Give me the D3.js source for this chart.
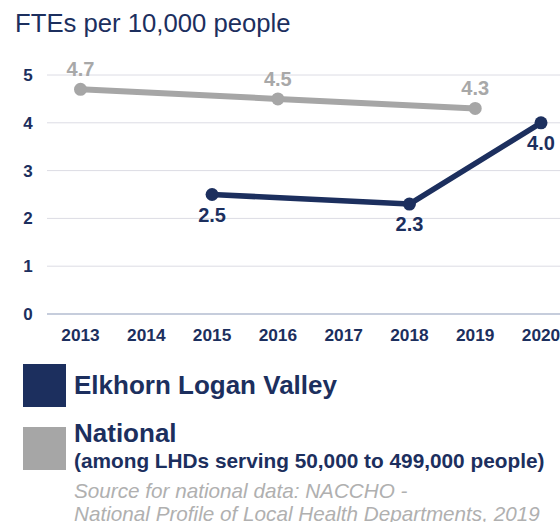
<!DOCTYPE html>
<html><head><meta charset="utf-8">
<script src="https://cdn.jsdelivr.net/npm/d3@7"></script>
<style>body{margin:0;background:#fff;overflow:hidden}svg{display:block;font-family:"Liberation Sans",Arial,sans-serif}</style>
</head><body>
<svg id="c" width="560" height="522"></svg>
<script>
const years = [2013,2014,2015,2016,2017,2018,2019,2020];
const yTicks = [0,1,2,3,4,5];
const localYears = [2015,2018,2020];
const localValues = [2.5,2.3,4.0];
const nationalYears = [2013,2016,2019];
const nationalValues = [4.7,4.5,4.3];
const navy = "#1c2f5e", gray = "#a6a6a6";

const svg = d3.select("#c");
const x = d3.scaleLinear().domain([2013,2020]).range([80.5,541]);
const y = d3.scaleLinear().domain([0,5]).range([314,75]);

svg.append("text").attr("x",15).attr("y",32).attr("fill",navy).attr("font-size",25.7).text("FTEs per 10,000 people");

// grid
const g = svg.append("g");
g.selectAll("line.grid").data(yTicks).join("line")
  .attr("x1",47).attr("x2",560).attr("y1",d=>y(d)).attr("y2",d=>y(d))
  .attr("stroke",d=>d===0?"#b3bdd0":"#dcdce4").attr("stroke-width",d=>d===0?1.5:1);
g.selectAll("text.yt").data(yTicks).join("text")
  .attr("x",28).attr("y",d=>y(d)+6).attr("text-anchor","middle")
  .attr("font-size",17).attr("font-weight","bold").attr("fill",navy).text(d=>d);
g.selectAll("text.xt").data(years).join("text")
  .attr("x",d=>x(d)).attr("y",341).attr("text-anchor","middle")
  .attr("font-size",17.3).attr("font-weight","bold").attr("fill",navy).text(d=>d);

function series(xs, vs, color, above, w){
  const pts = xs.map((d,i)=>[d,vs[i]]);
  svg.append("path").datum(pts)
    .attr("d", d3.line().x(d=>x(d[0])).y(d=>y(d[1])))
    .attr("fill","none").attr("stroke",color).attr("stroke-width",w).attr("stroke-linejoin","round");
  svg.append("g").selectAll("circle").data(pts).join("circle")
    .attr("cx",d=>x(d[0])).attr("cy",d=>y(d[1])).attr("r",6.5).attr("fill",color);
  svg.append("g").selectAll("text").data(pts).join("text")
    .attr("x",d=>x(d[0])).attr("y",d=>y(d[1]) + (above?-13:27))
    .attr("text-anchor","middle").attr("font-size",20).attr("font-weight","bold")
    .attr("fill",above?"#a8a8a8":color).text(d=>d[1].toFixed(1));
}
series(nationalYears, nationalValues, gray, true, 6);
series(localYears, localValues, navy, false, 5.5);

// legend
svg.append("rect").attr("x",23).attr("y",364).attr("width",43).attr("height",43).attr("fill",navy);
svg.append("text").attr("x",74).attr("y",394).attr("font-size",26).attr("font-weight","bold").attr("fill",navy).text("Elkhorn Logan Valley");
svg.append("rect").attr("x",23).attr("y",427).attr("width",43).attr("height",43).attr("fill",gray);
svg.append("text").attr("x",74).attr("y",442).attr("font-size",26).attr("font-weight","bold").attr("fill",navy).text("National");
svg.append("text").attr("x",74).attr("y",468).attr("font-size",20.8).attr("font-weight","bold").attr("fill",navy).text("(among LHDs serving 50,000 to 499,000 people)");
svg.append("text").attr("x",74).attr("y",498).attr("font-size",20.7).attr("font-style","italic").attr("fill","#b0b0b0").text("Source for national data: NACCHO -");
svg.append("text").attr("x",74).attr("y",521).attr("font-size",20.7).attr("font-style","italic").attr("fill","#b0b0b0").text("National Profile of Local Health Departments, 2019");
</script>
</body></html>
